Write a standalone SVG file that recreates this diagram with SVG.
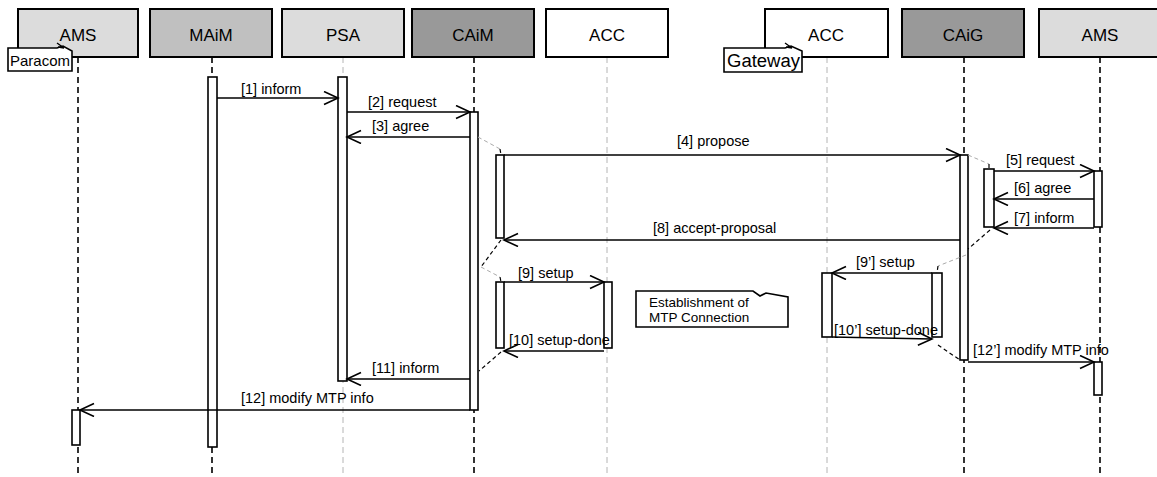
<svg xmlns="http://www.w3.org/2000/svg" width="1157" height="477" viewBox="0 0 1157 477">
<defs>
<marker id="ah" markerUnits="userSpaceOnUse" markerWidth="18" markerHeight="18" refX="15" refY="7" orient="auto">
<path d="M1,0.5 L15,7 L1,13.5" fill="none" stroke="#000" stroke-width="1.6"/>
</marker>
<style>
.hdr{stroke:#000;stroke-width:2}
.ht{font-family:"Liberation Sans",Arial,sans-serif;font-size:17px;text-anchor:middle;fill:#000}
.lb{font-family:"Liberation Sans",Arial,sans-serif;font-size:14.5px;fill:#000}
.nt{font-family:"Liberation Sans",Arial,sans-serif;font-size:15px;fill:#000}
.ll{stroke:#000;stroke-width:1.6;stroke-dasharray:6,4;fill:none}
.lg{stroke:#b4b4b4;stroke-width:1;stroke-dasharray:6,4;fill:none}
.act{fill:#fff;stroke:#000;stroke-width:1.6}
.msg{stroke:#000;stroke-width:1.6;fill:none;marker-end:url(#ah)}
.lkb{stroke:#000;stroke-width:1.2;stroke-dasharray:4,3;fill:none}
.lkg{stroke:#aaa;stroke-width:1;stroke-dasharray:4,3;fill:none}
.note{fill:#fff;stroke:#000;stroke-width:1.6}
</style>
</defs>
<g id="lifelines">
<line class="ll" x1="78" y1="57" x2="78" y2="477"/>
<line class="ll" x1="212" y1="57" x2="212" y2="477"/>
<line class="lg" x1="343" y1="57" x2="343" y2="477"/>
<line class="ll" x1="474" y1="57" x2="474" y2="477"/>
<line class="lg" x1="607" y1="57" x2="607" y2="477"/>
<line class="lg" x1="827" y1="57" x2="827" y2="477"/>
<line class="ll" x1="964" y1="57" x2="964" y2="477"/>
<line class="ll" x1="1100" y1="57" x2="1100" y2="477"/>
</g>
<g id="n-ams1"><rect class="hdr" x="18" y="9" width="120" height="48" fill="#dcdcdc"/><text class="ht" x="78" y="41">AMS</text></g>
<g id="n-maim"><rect class="hdr" x="150" y="9" width="122" height="48" fill="#c0c0c0"/><text class="ht" x="211" y="41">MAiM</text></g>
<g id="n-psa"><rect class="hdr" x="282" y="9" width="122" height="48" fill="#dcdcdc"/><text class="ht" x="343" y="41">PSA</text></g>
<g id="n-caim"><rect class="hdr" x="412" y="9" width="122" height="48" fill="#999"/><text class="ht" x="473" y="41">CAiM</text></g>
<g id="n-acc1"><rect class="hdr" x="546" y="9" width="122" height="48" fill="#fff"/><text class="ht" x="607" y="41">ACC</text></g>
<g id="n-acc2"><rect class="hdr" x="765" y="9" width="123" height="48" fill="#fff"/><text class="ht" x="826" y="41">ACC</text></g>
<g id="n-caig"><rect class="hdr" x="902" y="9" width="122" height="48" fill="#999"/><text class="ht" x="963" y="41">CAiG</text></g>
<g id="n-ams2"><rect class="hdr" x="1039" y="9" width="122" height="48" fill="#dcdcdc"/><text class="ht" x="1100" y="41">AMS</text></g>
<g id="note-paracom">
<path class="note" d="M8,48 H57 L63,46 L72,51 V71 H8 Z"/>
<path d="M57,43 L64,48 L58,47" fill="none" stroke="#000" stroke-width="1.4"/>
<text class="nt" x="10" y="66" textLength="60" lengthAdjust="spacingAndGlyphs">Paracom</text>
</g>
<g id="note-gateway">
<path class="note" d="M724,48 H785 L791,46 L802,51 V72 H724 Z"/>
<path d="M785,43 L792,48 L786,47" fill="none" stroke="#000" stroke-width="1.4"/>
<text class="nt" style="font-size:18px" x="727" y="67" textLength="73" lengthAdjust="spacingAndGlyphs">Gateway</text>
</g>
<g id="note-mtp">
<path class="note" d="M636,291 H753 L760,296 L766,293 L788,297 V327 H636 Z"/>
<text class="nt" style="font-size:13.5px" x="649" y="307">Establishment of</text>
<text class="nt" style="font-size:13.5px" x="649" y="322">MTP Connection</text>
</g>
<g id="activations">
<rect class="act" x="208" y="77" width="9" height="370"/>
<rect class="act" x="338" y="77" width="9" height="304"/>
<rect class="act" x="470" y="112" width="8" height="298"/>
<rect class="act" x="496" y="155" width="8" height="83"/>
<rect class="act" x="496" y="282" width="8" height="66"/>
<rect class="act" x="604" y="282" width="8" height="66"/>
<rect class="act" x="72" y="410" width="8" height="35"/>
<rect class="act" x="960" y="155" width="8" height="205"/>
<rect class="act" x="984" y="169" width="10" height="58"/>
<rect class="act" x="1094" y="171" width="8" height="56"/>
<rect class="act" x="822" y="273" width="10" height="64"/>
<rect class="act" x="932" y="273" width="10" height="64"/>
<rect class="act" x="1094" y="362" width="8" height="33"/>
</g>
<g id="connectors">
<line class="msg" x1="217" y1="98" x2="338" y2="98"/>
<line class="msg" x1="347" y1="112" x2="470" y2="112"/>
<line class="msg" x1="470" y1="137" x2="347" y2="137"/>
<line class="msg" x1="504" y1="155" x2="960" y2="155"/>
<line class="msg" x1="994" y1="171" x2="1094" y2="171"/>
<line class="msg" x1="1094" y1="199" x2="994" y2="199"/>
<line class="msg" x1="1094" y1="228" x2="994" y2="228"/>
<line class="msg" x1="960" y1="240" x2="504" y2="240"/>
<line class="msg" x1="504" y1="282" x2="604" y2="282"/>
<line class="msg" x1="604" y1="351" x2="504" y2="351"/>
<line class="msg" x1="932" y1="273" x2="832" y2="273"/>
<line class="msg" x1="832" y1="337" x2="932" y2="339"/>
<line class="msg" x1="470" y1="379" x2="347" y2="379"/>
<line class="msg" x1="470" y1="410" x2="80" y2="410"/>
<line class="msg" x1="968" y1="362" x2="1094" y2="362"/>
<path class="lkg" d="M478,137 L500,149"/><path class="lkb" d="M500,149 L501,155"/>
<path class="lkb" d="M501,240 L481,267"/><path class="lkg" d="M481,267 L500,277"/><path class="lkb" d="M500,277 L501,282"/>
<path class="lkb" d="M501,352 L479,371"/>
<path class="lkg" d="M968,155 L989,164"/><path class="lkb" d="M989,164 L989,169"/>
<path class="lkb" d="M990,230 L968,249"/>
<path class="lkg" d="M966,255 L938,266"/><path class="lkb" d="M938,266 L937,273"/>
<path class="lkb" d="M938,345 L960,360"/>
</g>
<g id="labels">
<text class="lb" x="241" y="94">[1] inform</text>
<text class="lb" x="368" y="107">[2] request</text>
<text class="lb" x="372" y="131">[3] agree</text>
<text class="lb" x="677" y="146">[4] propose</text>
<text class="lb" x="1006" y="165">[5]  request</text>
<text class="lb" x="1014" y="193">[6] agree</text>
<text class="lb" x="1014" y="223">[7] inform</text>
<text class="lb" x="653" y="233">[8]  accept-proposal</text>
<text class="lb" x="518" y="278">[9] setup</text>
<text class="lb" x="509" y="345">[10] setup-done</text>
<text class="lb" x="856" y="267">[9’] setup</text>
<text class="lb" x="834" y="335">[10’] setup-done</text>
<text class="lb" x="372" y="373">[11] inform</text>
<text class="lb" x="241" y="403">[12] modify MTP info</text>
<text class="lb" x="973" y="355">[12’] modify MTP info</text>
</g>
</svg>
